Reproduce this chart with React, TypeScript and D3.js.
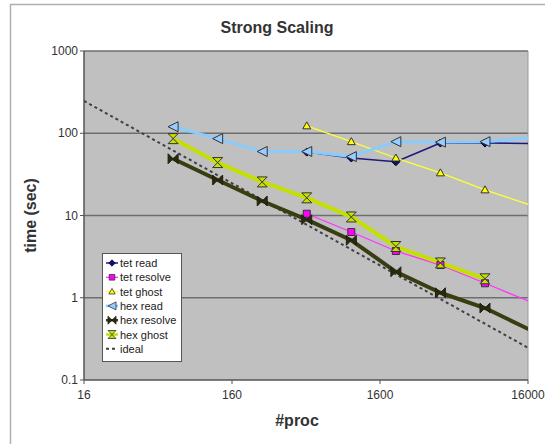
import React from "react";
import * as d3 from "d3";

const procs = [64, 128, 256, 512, 1024, 2048, 4096, 8192, 16384];
const tetRead = [null, null, null, 59, 50, 45, 76, 76, 75];
const tetResolve = [null, null, null, 10.5, 6.3, 3.7, 2.5, 1.5, 0.9];
const tetGhost = [null, null, null, 123, 79, 50, 33, 20.5, 13.5];
const hexRead = [120, 86, 60, 60, 52, 79, 78, 79, 88];
const hexResolve = [49, 27, 15, 8.9, 5.0, 2.07, 1.15, 0.75, 0.41];
const hexGhost = [86, 44, 25.6, 16.4, 9.6, 4.2, 2.65, 1.7, null];
const idealProcs = [16, 16384];
const idealValues = [247, 0.241];
const xTicks = [16, 160, 1600, 16000];
const yTicks = [0.1, 1, 10, 100, 1000];
const yTickLabels = ["0.1", "1", "10", "100", "1000"];

const W = 545, H = 444;
const m = { left: 84, right: 528, top: 51, bottom: 380 };

type Series = {
  name: string;
  values: (number | null)[];
  color: string;
  width: number;
  marker: string;
  fill: string;
  stroke: string;
};

const series: Series[] = [
  { name: "tet read", values: tetRead, color: "#1a1a80", width: 1.5, marker: "diamond", fill: "#10106a", stroke: "#000030" },
  { name: "tet resolve", values: tetResolve, color: "#ff33ff", width: 1.3, marker: "square", fill: "#ff00ff", stroke: "#333333" },
  { name: "tet ghost", values: tetGhost, color: "#ffff33", width: 1.3, marker: "triangle", fill: "#ffff00", stroke: "#333333" },
  { name: "hex read", values: hexRead, color: "#88ccff", width: 3, marker: "left", fill: "#99ccff", stroke: "#333333" },
  { name: "hex resolve", values: hexResolve, color: "#3a3d12", width: 4, marker: "bowtie", fill: "#2a2a10", stroke: "#202010" },
  { name: "hex ghost", values: hexGhost, color: "#c4e000", width: 4, marker: "hourglass", fill: "#c8e000", stroke: "#333333" },
];

function markerPath(kind: string): string {
  switch (kind) {
    case "diamond": return "M0,-4L4,0L0,4L-4,0Z";
    case "square": return "M-3.5,-3.5L3.5,-3.5L3.5,3.5L-3.5,3.5Z";
    case "triangle": return "M0,-4L4,3L-4,3Z";
    case "left": return "M-5,0L5,-5L5,5Z";
    case "bowtie": return "M-5,-5L5,5L5,-5L-5,5Z";
    case "hourglass": return "M-5,-5L5,-5L-5,5L5,5Z";
  }
  return "";
}

export default function App() {
  const x = d3.scaleLog().domain([16, 16000]).range([m.left, m.right]);
  const y = d3.scaleLog().domain([0.1, 1000]).range([m.bottom, m.top]);
  const line = d3.line<[number, number]>().x(d => x(d[0])).y(d => y(d[1]));
  const font = "Arial, 'Liberation Sans', sans-serif";

  const pts = (vals: (number | null)[]) =>
    procs.map((p, i) => [p, vals[i]] as [number, number | null]).filter(d => d[1] != null) as [number, number][];

  const legendX = 102, legendY = 253;
  const legendItems = [...series.map(s => s.name), "ideal"];

  return (
    <svg width={W} height={H} style={{ position: "absolute", left: 0, top: 0 }} fontFamily={font}>
      <rect x={0} y={0} width={W} height={H} fill="#ffffff" />
      <rect x={10.5} y={4.5} width={560} height={460} fill="#ffffff" stroke="#b0b0b0" strokeWidth={1.5} />
      <text x={277} y={33} textAnchor="middle" fontSize={16} fontWeight="bold" fill="#333333">Strong Scaling</text>
      <defs>
        <clipPath id="plotclip">
          <rect x={m.left} y={m.top} width={m.right - m.left} height={m.bottom - m.top} />
        </clipPath>
      </defs>
      <rect x={m.left} y={m.top} width={m.right - m.left} height={m.bottom - m.top} fill="#c0c0c0" />
      {yTicks.slice(1, 4).map(t => (
        <line key={t} x1={m.left} x2={m.right} y1={y(t)} y2={y(t)} stroke="#6e6e6e" strokeWidth={1.5} />
      ))}
      <line x1={m.left} x2={m.right} y1={m.top} y2={m.top} stroke="#6e6e6e" strokeWidth={1.5} />
      <line x1={m.right} x2={m.right} y1={m.top} y2={m.bottom} stroke="#9a9a9a" strokeWidth={1} />
      <line x1={m.left} x2={m.left} y1={m.top} y2={m.bottom} stroke="#555555" strokeWidth={1.5} />
      <line x1={m.left} x2={m.right} y1={m.bottom} y2={m.bottom} stroke="#555555" strokeWidth={1.5} />
      {yTicks.map((t, i) => (
        <g key={t}>
          <line x1={m.left - 4} x2={m.left} y1={y(t)} y2={y(t)} stroke="#555555" strokeWidth={1} />
          <text x={m.left - 6} y={y(t) + 4} textAnchor="end" fontSize={12} fill="#333333">{yTickLabels[i]}</text>
        </g>
      ))}
      {xTicks.map(t => (
        <g key={t}>
          <line x1={x(t)} x2={x(t)} y1={m.bottom} y2={m.bottom + 4} stroke="#555555" strokeWidth={1} />
          <text x={x(t)} y={m.bottom + 19} textAnchor="middle" fontSize={12} fill="#333333">{t}</text>
        </g>
      ))}
      <text x={297} y={426} textAnchor="middle" fontSize={16} fontWeight="bold" fill="#333333">#proc</text>
      <text transform={`translate(36,${(m.top + m.bottom) / 2}) rotate(-90)`} textAnchor="middle" fontSize={16} fontWeight="bold" fill="#333333">time (sec)</text>

      <g clipPath="url(#plotclip)">
        <path d={line(idealProcs.map((p, i) => [p, idealValues[i]]) as [number, number][]) || ""} fill="none" stroke="#404040" strokeWidth={2} strokeDasharray="3,3" />
        {series.map(s => (
          <path key={s.name} d={line(pts(s.values)) || ""} fill="none" stroke={s.color} strokeWidth={s.width} strokeLinejoin="round" />
        ))}
        {series.map(s => (
          <g key={s.name + "m"}>
            {pts(s.values).filter(d => d[0] <= 16000).map(d => (
              <path key={d[0]} d={markerPath(s.marker)} transform={`translate(${x(d[0])},${y(d[1])})`} fill={s.fill} stroke={s.stroke} strokeWidth={1} />
            ))}
          </g>
        ))}
      </g>

      <rect x={legendX + 0.5} y={legendY + 0.5} width={79} height={108} fill="#ffffff" stroke="#555555" strokeWidth={1} />
      {legendItems.map((name, i) => {
        const ly = legendY + 10 + i * 14.3;
        const s = series[i];
        return (
          <g key={name}>
            {s ? (
              <>
                <line x1={legendX + 4} x2={legendX + 16} y1={ly} y2={ly} stroke={s.color} strokeWidth={Math.min(s.width, 2.5)} />
                <path d={markerPath(s.marker)} transform={`translate(${legendX + 10},${ly}) scale(0.8)`} fill={s.fill} stroke={s.stroke} strokeWidth={1} />
              </>
            ) : (
              <line x1={legendX + 4} x2={legendX + 16} y1={ly} y2={ly} stroke="#404040" strokeWidth={2} strokeDasharray="3,3" />
            )}
            <text x={legendX + 18} y={ly + 4} fontSize={11} fill="#222222">{name}</text>
          </g>
        );
      })}
    </svg>
  );
}
